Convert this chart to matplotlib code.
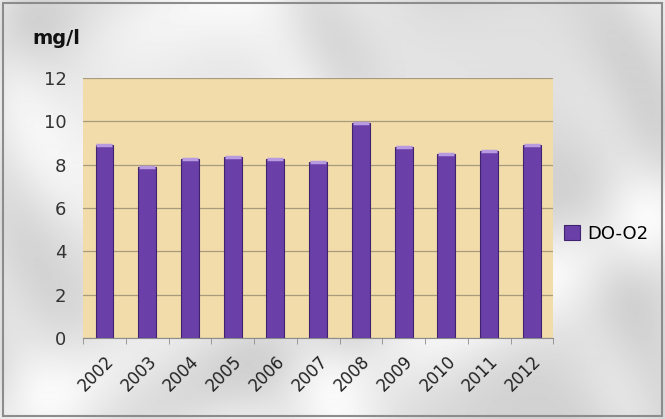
import numpy as np
import matplotlib
matplotlib.use("Agg")
import matplotlib.pyplot as plt
from matplotlib.patches import Rectangle

years = ['2002', '2003', '2004', '2005', '2006', '2007',
         '2008', '2009', '2010', '2011', '2012']
do_o2 = [8.9, 7.9, 8.25, 8.35, 8.25, 8.1, 9.9, 8.8, 8.5, 8.65, 8.9]

fig = plt.figure(figsize=(6.65, 4.19), dpi=100)
fig.patch.set_facecolor('#e6e6e6')

# light marble-ish background made from smooth veins
yy, xx = np.mgrid[0:1:419j, 0:1:665j]
veins = (np.sin(9 * xx + 5 * yy + 2 * np.sin(6 * yy + 3 * xx))
         + 0.6 * np.sin(17 * xx - 11 * yy + 1.5 * np.sin(13 * xx)))
shade = 0.90 - 0.05 * veins
bg = fig.add_axes([0, 0, 1, 1], zorder=-5)
bg.imshow(shade, cmap='gray', vmin=0, vmax=1, aspect='auto',
          interpolation='bilinear')
bg.axis('off')
fig.patches.append(Rectangle((0.004, 0.006), 0.992, 0.988, transform=fig.transFigure,
                             fill=False, edgecolor='#8c8c8c', linewidth=1.5))

ax = fig.add_axes([0.125, 0.193, 0.707, 0.621])
ax.set_facecolor('#f2dcaa')

x = np.arange(len(years))
ax.bar(x, do_o2, width=0.42, color='#6a40a8', edgecolor='#3f2370',
       linewidth=0.8, zorder=3, label='DO-O2')
# light caps on top of the bars
ax.scatter(x, do_o2, marker='_', s=120, color='#b79ae0', linewidth=2.5, zorder=4)

ax.set_ylim(0, 12)
ax.set_xlim(-0.5, len(years) - 0.5)
ax.set_yticks(range(0, 13, 2))
ax.yaxis.grid(True, color='#a89a7c', linewidth=0.9)
ax.set_axisbelow(True)

ax.set_xticks(x)
ax.set_xticklabels(years, rotation=45, ha='right', rotation_mode='anchor',
                   fontsize=12, color='#222222')
ax.set_xticks(np.arange(-0.5, len(years), 1), minor=True)
ax.tick_params(axis='x', which='major', length=0, pad=10)
ax.tick_params(axis='x', which='minor', length=4, color='#8c8c8c')
ax.tick_params(axis='y', length=0, labelsize=13, labelcolor='#333333', pad=12)

for side in ['top', 'right', 'left']:
    ax.spines[side].set_visible(False)
ax.spines['bottom'].set_color('#8c8c8c')

fig.text(0.048, 0.895, 'mg/l', fontsize=14, fontweight='bold', color='#111111')

ax.legend(loc='center left', bbox_to_anchor=(1.0, 0.40), frameon=False,
          fontsize=13, handlelength=0.9, handleheight=0.9, handletextpad=0.4,
          borderaxespad=0.2, scatterpoints=0)

fig.savefig('out.png', dpi=100, facecolor=fig.get_facecolor())
